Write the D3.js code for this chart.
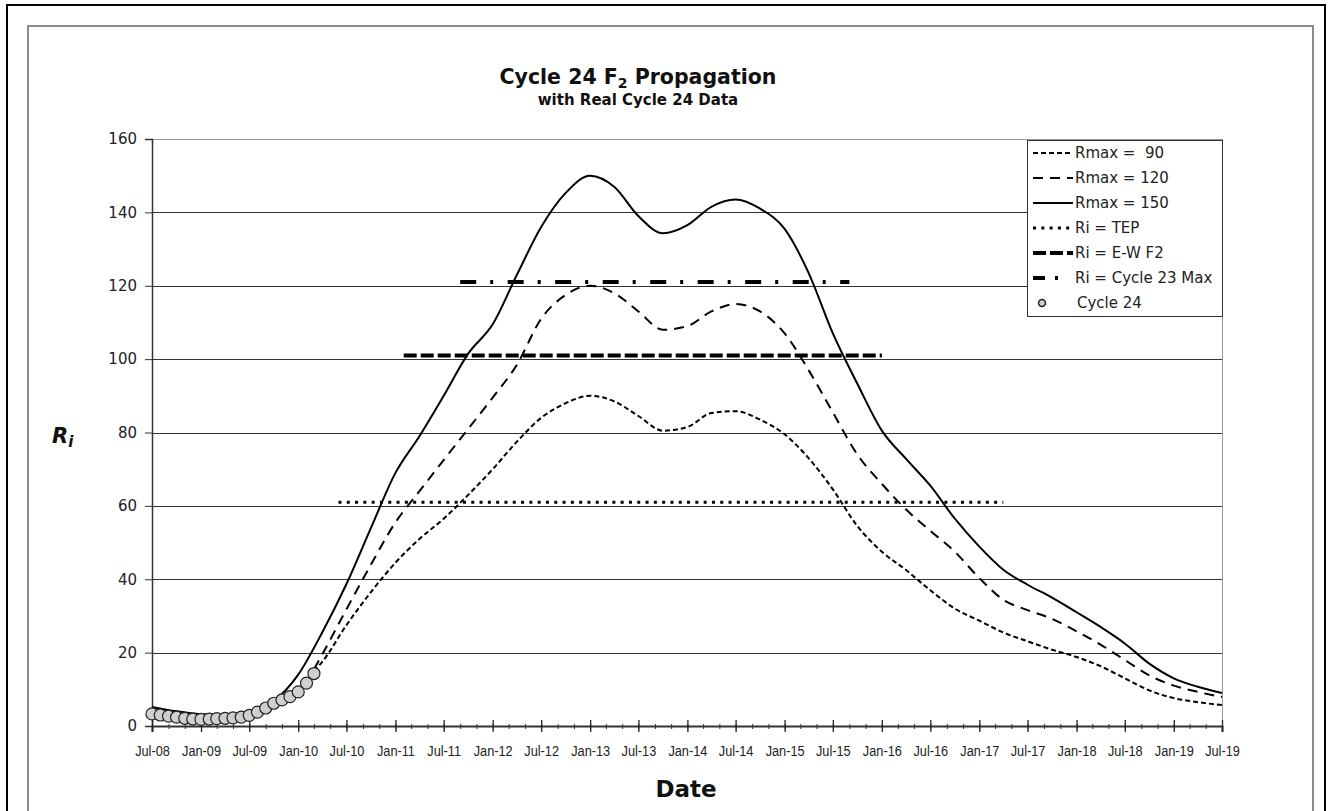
<!DOCTYPE html>
<html>
<head>
<meta charset="utf-8">
<script src="https://cdn.jsdelivr.net/npm/d3@7"></script>
<style>
  body { margin: 0; background: #fff; }
  svg { display: block; }
</style>
</head>
<body>
<div id="chart"></div>
<script>
// quarterly grid for the Rmax = 150 curve (Jul-08 .. Jul-19)
const quarterDates = [
  "2008-07","2008-10","2009-01","2009-04","2009-07","2009-10","2010-01","2010-04","2010-07","2010-10",
  "2011-01","2011-04","2011-07","2011-10","2012-01","2012-04","2012-07","2012-10","2013-01","2013-04",
  "2013-07","2013-10","2014-01","2014-04","2014-07","2014-10","2015-01","2015-04","2015-07","2015-10",
  "2016-01","2016-04","2016-07","2016-10","2017-01","2017-04","2017-07","2017-10","2018-01","2018-04",
  "2018-07","2018-10","2019-01","2019-04","2019-07"
];
const rmax150 = [
  5.2, 4, 3.2, 3, 4, 6.8, 14, 25.5, 38.7, 54,
  69, 79, 90, 101.5, 109.5, 123, 136, 145.3, 150, 147,
  139, 134.3, 136.5, 141.5, 143.5, 141, 135.5, 123.5, 107, 93.3,
  80.5, 72.8, 65.5, 56.5, 48.9, 42.6, 38.5, 35, 31, 27,
  22.5, 17, 13, 10.7, 9
];

// predictions start where the real data stops (Mar-10)
const predDates = ["2010-03"].concat(quarterDates.slice(7));
const rmax90 = [
  15, 17.5, 27.5, 36.5, 44.5, 51, 56.5, 63, 70, 77.5,
  84, 88, 90, 88.5, 84.5, 80.5, 81.5, 85.3, 85.8, 83.5,
  79.5, 73, 64.5, 54.5, 47.5, 42.5, 37, 32, 28.7, 25.5,
  23.1, 20.8, 18.8, 16.3, 13, 9.7, 7.6, 6.5, 5.7
];
const rmax120 = [
  15.5, 19.5, 31.8, 44, 55.5, 64, 72.5, 81, 89.5, 98.5,
  111, 117.5, 120, 118, 113, 108, 109, 113, 115, 113,
  107, 97, 85.5, 74, 66, 59, 53.2, 47.5, 40.3, 34.4,
  31.6, 29.2, 25.8, 22.2, 18, 13.8, 11, 9.3, 7.9
];

// flat reference levels
const refNames = ["Ri = TEP", "Ri = E-W F2", "Ri = Cycle 23 Max"];
const refValues = [61, 101, 121];
const refStart = ["2010-06", "2011-02", "2011-09"];
const refEnd = ["2017-04", "2016-01", "2015-09"];

// real Cycle 24 data, monthly
const cycle24Dates = [
  "2008-07","2008-08","2008-09","2008-10","2008-11","2008-12","2009-01","2009-02","2009-03","2009-04",
  "2009-05","2009-06","2009-07","2009-08","2009-09","2009-10","2009-11","2009-12","2010-01","2010-02","2010-03"
];
const cycle24 = [
  3.3, 3.0, 2.7, 2.4, 2.1, 1.9, 1.8, 1.9, 2.0, 2.1,
  2.2, 2.4, 2.9, 3.8, 4.9, 6.2, 7.1, 8.0, 9.3, 11.7, 14.3
];

const yTicks = [0, 20, 40, 60, 80, 100, 120, 140, 160];

const parseMonth = d3.timeParse("%Y-%m");

const dim = { width: 1330, height: 811, left: 152, right: 1222, top: 139, bottom: 726 };

const svg = d3.select("#chart").append("svg")
  .attr("width", dim.width)
  .attr("height", dim.height);

// frames
svg.append("rect")
  .attr("x", 7).attr("y", 5).attr("width", 1318).attr("height", 830)
  .attr("fill", "#fff").attr("stroke", "#000").attr("stroke-width", 2);
svg.append("rect")
  .attr("x", 28).attr("y", 26).attr("width", 1285).attr("height", 810)
  .attr("fill", "#fff").attr("stroke", "#8c8c8c").attr("stroke-width", 2);

const x = d3.scaleTime()
  .domain([parseMonth("2008-07"), parseMonth("2019-07")])
  .range([dim.left, dim.right]);
const y = d3.scaleLinear()
  .domain([0, 160])
  .range([dim.bottom, dim.top]);

// gridlines
svg.append("g")
  .selectAll("line")
  .data(yTicks.filter(d => d > 0))
  .join("line")
    .attr("x1", dim.left).attr("x2", dim.right)
    .attr("y1", d => Math.round(y(d)) + 0.5).attr("y2", d => Math.round(y(d)) + 0.5)
    .attr("stroke", d => d === 160 ? "#999" : "#333")
    .attr("stroke-width", 1.2);

// right border of plot area
svg.append("line")
  .attr("x1", dim.right + 0.5).attr("x2", dim.right + 0.5)
  .attr("y1", dim.top).attr("y2", dim.bottom)
  .attr("stroke", "#999");

// y axis
const yAxis = svg.append("g")
  .attr("transform", `translate(${dim.left},0)`)
  .call(d3.axisLeft(y).tickValues(yTicks).tickSize(7).tickPadding(8));
yAxis.select(".domain").attr("stroke", "#333").attr("stroke-width", 1.5);
yAxis.selectAll(".tick line").attr("stroke", "#333");
yAxis.selectAll("text")
  .attr("font-family", "DejaVu Sans, Verdana, sans-serif")
  .attr("font-size", 15)
  .attr("fill", "#222");

// x axis: minor ticks every 2 months, labelled ticks every 6 months
const minorTicks = d3.timeMonth.every(2).range(parseMonth("2008-07"), parseMonth("2019-08"));
const majorTicks = d3.timeMonth.every(6).range(parseMonth("2008-07"), parseMonth("2019-08"));

const xMinor = svg.append("g")
  .attr("transform", `translate(0,${dim.bottom})`)
  .call(d3.axisBottom(x).tickValues(minorTicks).tickSize(3).tickFormat(""));
xMinor.select(".domain").remove();
xMinor.selectAll(".tick line").attr("y1", -2).attr("stroke", "#333");

const xAxis = svg.append("g")
  .attr("transform", `translate(0,${dim.bottom})`)
  .call(d3.axisBottom(x).tickValues(majorTicks).tickSize(6).tickPadding(13)
    .tickFormat(d3.timeFormat("%b-%y")));
xAxis.select(".domain").attr("stroke", "#333").attr("stroke-width", 2);
xAxis.selectAll(".tick line").attr("y1", -6).attr("stroke", "#222").attr("stroke-width", 1.3);
// narrow look, like Arial Narrow
xAxis.selectAll("text")
  .attr("font-family", "Liberation Sans, Arial, sans-serif")
  .attr("font-size", 15)
  .attr("transform", "scale(0.85,1)")
  .attr("fill", "#222");

// series styles
const styles = {
  r90:  { dash: "5,3", width: 2 },
  r120: { dash: "10,7", width: 2 },
  r150: { dash: null, width: 2 },
  tep:  { dash: "3,5.3", width: 3 },
  ew:   { dash: "13,4", width: 4 },
  c23:  { dash: "16,14,3,14.5", width: 4 }
};

const line = d3.line()
  .x(d => x(d.date))
  .y(d => y(d.v))
  .curve(d3.curveMonotoneX);

function series(dates, values) {
  return dates.map((d, i) => ({ date: parseMonth(d), v: values[i] }));
}

const plot = svg.append("g");

// reference levels
const refKeys = ["tep", "ew", "c23"];
refValues.forEach((v, i) => {
  const st = styles[refKeys[i]];
  plot.append("line")
    .attr("x1", x(parseMonth(refStart[i])))
    .attr("x2", x(parseMonth(refEnd[i])))
    .attr("y1", y(v)).attr("y2", y(v))
    .attr("stroke", "#000")
    .attr("stroke-width", st.width)
    .attr("stroke-dasharray", st.dash);
});

[
  [quarterDates, rmax150, styles.r150],
  [predDates, rmax120, styles.r120],
  [predDates, rmax90, styles.r90]
].forEach(([dates, values, st]) => {
  plot.append("path")
    .datum(series(dates, values))
    .attr("d", line)
    .attr("fill", "none")
    .attr("stroke", "#000")
    .attr("stroke-width", st.width)
    .attr("stroke-dasharray", st.dash);
});

// Cycle 24 circles
plot.append("g")
  .selectAll("circle")
  .data(series(cycle24Dates, cycle24))
  .join("circle")
    .attr("cx", d => x(d.date))
    .attr("cy", d => y(d.v))
    .attr("r", 6)
    .attr("fill", "#cfcfcf")
    .attr("stroke", "#222")
    .attr("stroke-width", 1.2);

// legend
const legendItems = [
  { label: "Rmax =  90", st: styles.r90 },
  { label: "Rmax = 120", st: styles.r120 },
  { label: "Rmax = 150", st: styles.r150 },
  { label: refNames[0], st: styles.tep },
  { label: refNames[1], st: styles.ew },
  { label: refNames[2], st: { dash: "12,10,3,20", width: 4 } },
  { label: "Cycle 24", marker: true }
];

const legend = svg.append("g");
legend.append("rect")
  .attr("x", 1027.5).attr("y", 140.5).attr("width", 195).attr("height", 176)
  .attr("fill", "#fff").attr("stroke", "#333");

legendItems.forEach((item, i) => {
  const cy = 153 + i * 25;
  if (item.marker) {
    legend.append("circle")
      .attr("cx", 1042).attr("cy", cy).attr("r", 3.5)
      .attr("fill", "#cfcfcf").attr("stroke", "#222").attr("stroke-width", 1.5);
  } else {
    legend.append("line")
      .attr("x1", 1033).attr("x2", 1073)
      .attr("y1", cy).attr("y2", cy)
      .attr("stroke", "#000")
      .attr("stroke-width", item.st.width)
      .attr("stroke-dasharray", item.st.dash);
  }
  legend.append("text")
    .attr("x", item.marker ? 1077 : 1075)
    .attr("y", cy)
    .attr("dy", "0.35em")
    .attr("font-family", "DejaVu Sans, Verdana, sans-serif")
    .attr("font-size", 15)
    .attr("fill", "#222")
    .style("white-space", "pre")
    .text(item.label);
});

// titles
const title = svg.append("text")
  .attr("x", 638).attr("y", 84)
  .attr("text-anchor", "middle")
  .attr("font-family", "DejaVu Sans, Verdana, sans-serif")
  .attr("font-weight", "bold")
  .attr("font-size", 20.5)
  .attr("fill", "#111");
title.append("tspan").text("Cycle 24 F");
title.append("tspan").attr("font-size", 14).attr("dy", 4).text("2");
title.append("tspan").attr("dy", -4).text(" Propagation");

svg.append("text")
  .attr("x", 638).attr("y", 105)
  .attr("text-anchor", "middle")
  .attr("font-family", "DejaVu Sans, Verdana, sans-serif")
  .attr("font-weight", "bold")
  .attr("font-size", 15)
  .attr("fill", "#111")
  .text("with Real Cycle 24 Data");

const yLabel = svg.append("text")
  .attr("x", 52).attr("y", 443)
  .attr("font-family", "DejaVu Sans, Verdana, sans-serif")
  .attr("font-weight", "bold")
  .attr("font-style", "italic")
  .attr("font-size", 21)
  .attr("fill", "#111");
yLabel.append("tspan").text("R");
yLabel.append("tspan").attr("font-size", 15).attr("dy", 4).text("i");

svg.append("text")
  .attr("x", 686).attr("y", 797)
  .attr("text-anchor", "middle")
  .attr("font-family", "DejaVu Sans, Verdana, sans-serif")
  .attr("font-weight", "bold")
  .attr("font-size", 23)
  .attr("fill", "#111")
  .text("Date");
</script>
</body>
</html>
